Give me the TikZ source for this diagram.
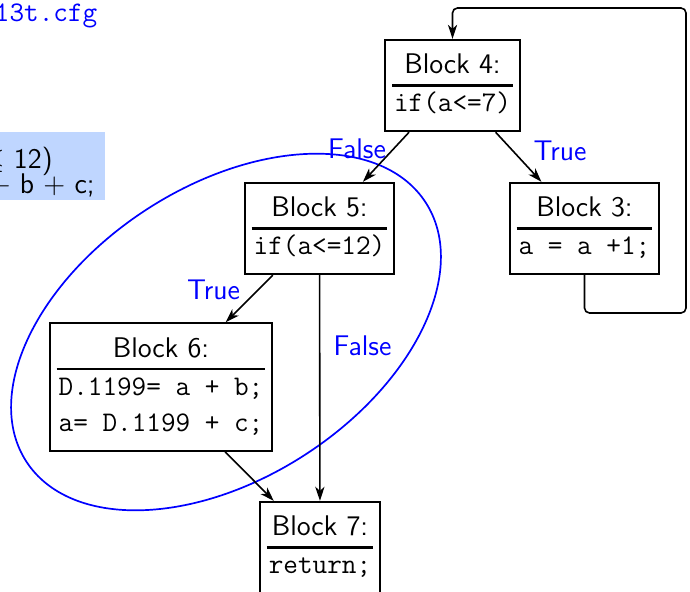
\documentclass[tikz,border=0pt]{standalone}
\usetikzlibrary{arrows.meta}
\definecolor{codebg}{RGB}{191,214,255}
\definecolor{lblblue}{RGB}{0,0,255}
\setlength{\arrayrulewidth}{1.2pt}
\newcommand\blkone[2]{\begin{tabular}{@{\hspace{1pt}}c@{\hspace{1pt}}}#1\\\hline\ttfamily #2\end{tabular}}
\newcommand\blktwo[3]{\begin{tabular}{@{\hspace{1pt}}c@{\hspace{1pt}}}#1\\\hline\ttfamily #2\\\ttfamily #3\end{tabular}}
\begin{document}
\begin{tikzpicture}[x=0.5pt,y=-0.5pt,
  blockbox/.style={draw, line width=1pt, fill=white, inner xsep=3.5pt, inner ysep=4.25pt,
    font=\sffamily\fontsize{14.2}{18}\selectfont},
  arr/.style={-{Stealth[length=7pt,width=4.6pt,inset=2pt]}, line width=0.8pt},
  lbl/.style={text=lblblue, font=\sffamily\fontsize{14.2}{18}\selectfont, inner sep=0pt, anchor=base},
  codetext/.style={font=\sffamily\fontsize{14.2}{18}\selectfont, inner sep=0pt, anchor=base east},
  ringline/.style={draw=lblblue, line width=0.85pt}]
\useasboundingbox (0,0) rectangle (690,591);
\clip (0,0) rectangle (690,591);

% file name (cut off at left)
\node[text=lblblue, font=\ttfamily\fontsize{14.2}{18}\selectfont, inner sep=0pt, anchor=base west] (fname) at (-5.5,21) {13t.cfg};

% code box (cut off at left)
\node[fill=codebg, inner sep=0pt, minimum width=60pt, minimum height=34pt, anchor=north east] (code) at (105,132) {};
\node[codetext] (c1) at (53,168) {$\leq$ 12)};
\node[codetext] (c2) at (95,193) {$+$ b $+$ c;};

% blocks
\node[blockbox] (B4) at (452.5,85.5) {\blkone{Block 4:}{if(a<=7)}};
\node[blockbox] (B3) at (584.5,228.5) {\blkone{Block 3:}{a = a +1;}};
\node[blockbox] (B5) at (319.5,228.5) {\blkone{Block 5:}{if(a<=12)}};
\node[blockbox] (B6) at (161,387) {\blktwo{Block 6:}{D.1199= a + b;}{a= D.1199 + c;}};
\node[blockbox] (B7) at (320,547.5) {\blkone{Block 7:}{return;}};

% ellipse around blocks 5 and 6
\coordinate (ringc) at (226,332);
\draw[ringline, rotate around={33:(ringc)}] (ringc) ellipse [x radius=119pt, y radius=73pt];

% connectors
\draw[arr] (B4) -- (B5);
\draw[arr] (B4) -- (B3);
\draw[arr] (B5) -- (B6);
\draw[arr] (B5) -- (B7);
\draw[arr] (B6) -- (B7);
\coordinate (loopR) at (686,313);
\coordinate (loopT) at (686,8);
\draw[arr, rounded corners=2.5pt] (B3.south) |- (loopR) -- (loopT) -| (B4.north);

% labels
\node[lbl] (lF1) at (357,158) {False};
\node[lbl] (lT1) at (560,160) {True};
\node[lbl] (lT2) at (213.5,299) {True};
\node[lbl] (lF2) at (362.5,355) {False};
\end{tikzpicture}
\end{document}
